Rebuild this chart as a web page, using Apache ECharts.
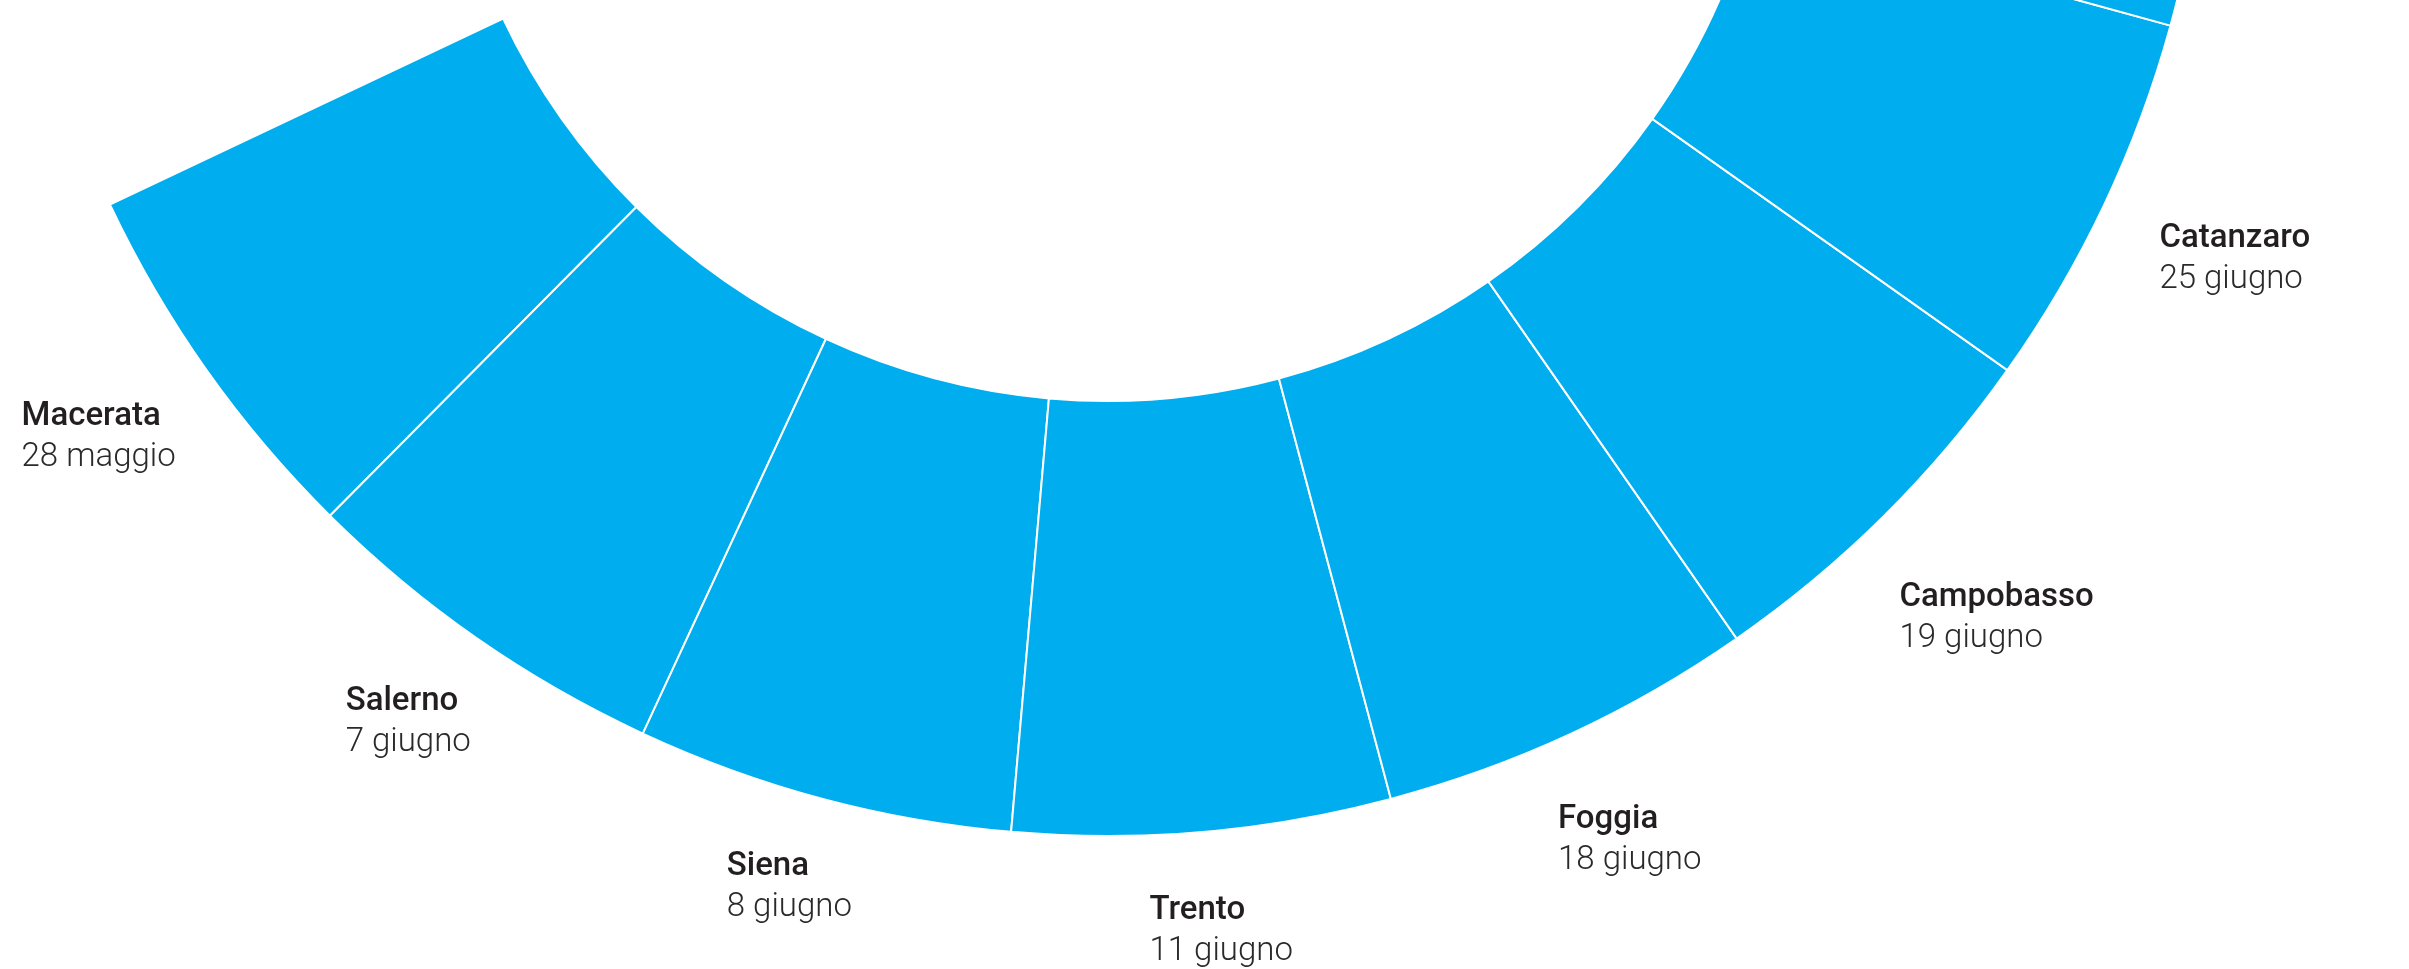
<!DOCTYPE html>
<html><head><meta charset="utf-8">
<style>html,body{margin:0;padding:0;background:#fff;overflow:hidden}#c{width:2409px;height:969px}</style>
<script src="https://cdn.jsdelivr.net/npm/echarts@6/dist/echarts.min.js"></script>
</head><body><div id="c"></div>
<script>
// Stages shown on the ring (one equal segment each)
const cities = ['Macerata', 'Salerno', 'Siena', 'Trento', 'Foggia', 'Campobasso', 'Catanzaro'];
const dates = ['28 maggio', '7 giugno', '8 giugno', '11 giugno', '18 giugno', '19 giugno', '25 giugno'];
const stageValues = [1, 1, 1, 1, 1, 1, 1];
// next stage, only a sliver visible at the top right edge (label off-canvas)
const nextStageValues = [1];
// part of the ring not drawn
const restValue = 10.09;

// layout / style
const CENTER = [1107, -267];
const RADII = [668, 1103];
const START = 205.31;
const D_LEFT = 1146, D_RIGHT = 1161, LABEL_SPREAD = 0.5;
const BLUE = '#00AEEF';

const data = [];
cities.forEach((n, i) => data.push({ name: n, value: stageValues[i] }));
nextStageValues.forEach(v => data.push({ name: '', value: v, label: { show: false } }));
data.push({ name: '', value: restValue, itemStyle: { color: 'rgba(0,0,0,0)', borderWidth: 0 }, label: { show: false } });

const vals = data.map(d => d.value);
const total = vals.reduce((a, b) => a + b, 0);
function midScreenAngle(i) {
  let acc = 0;
  for (let k = 0; k < i; k++) acc += vals[k];
  const a = START + (acc + vals[i] / 2) / total * 360;
  return -a * Math.PI / 180;
}

const chart = echarts.init(document.getElementById('c'), null, { renderer: 'canvas' });
chart.setOption({
  animation: false,
  backgroundColor: '#ffffff',
  series: [{
    type: 'pie',
    center: CENTER,
    radius: RADII,
    startAngle: START,
    clockwise: false,
    avoidLabelOverlap: false,
    silent: true,
    emphasis: { disabled: true },
    itemStyle: { color: BLUE, borderColor: '#ffffff', borderWidth: 2 },
    label: {
      show: true,
      position: 'outside',
      formatter: p => '{n|' + p.name + '}\n{d|' + (dates[p.dataIndex] || '') + '}',
      rich: {
        n: { fontFamily: 'Roboto', fontSize: 33, fontWeight: 500, color: '#231F20', lineHeight: 41 },
        d: { fontFamily: 'Roboto', fontSize: 33, fontWeight: 300, color: '#2a2a2a', lineHeight: 41 }
      }
    },
    labelLine: { show: false },
    labelLayout: function (params) {
      const i = params.dataIndex;
      if (i >= cities.length) return {};
      let t = midScreenAngle(i);
      const right = Math.cos(t) > 0;
      t += (right ? -1 : 1) * LABEL_SPREAD * Math.PI / 180;
      const c = Math.cos(t), s = Math.sin(t);
      const w = params.labelRect.width, h = params.labelRect.height;
      const D = right ? D_RIGHT : D_LEFT;
      const e = (w / 2) * Math.abs(c) + (h / 2 - 5.3) * Math.abs(s);
      const bx = CENTER[0] + (D + e) * c, by = CENTER[1] + (D + e) * s;
      return { x: bx - w / 2, y: by - h / 2, align: 'left', verticalAlign: 'top' };
    },
    data: data
  }]
});
</script>
</body></html>
